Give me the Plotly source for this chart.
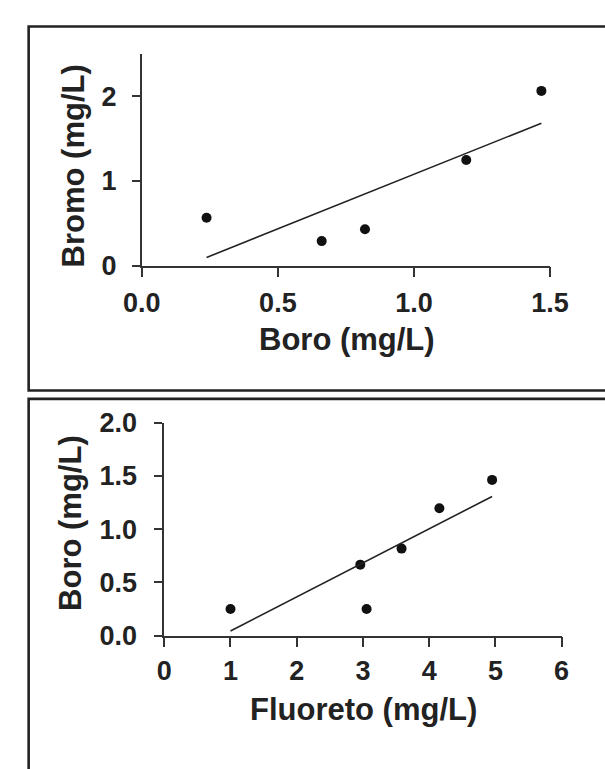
import numpy as np
import plotly.graph_objects as go

W, H = 605, 769

# ---- data (top panel): Boro vs Bromo ----
boro_top = [0.238, 0.661, 0.820, 1.192, 1.468]
bromo_top = [0.565, 0.289, 0.428, 1.247, 2.065]

# ---- data (bottom panel): Fluoreto vs Boro ----
fluoreto_bot = [1.00, 2.96, 3.055, 3.583, 4.154, 4.95]
boro_bot = [0.25, 0.666, 0.25, 0.817, 1.196, 1.463]

top_xticks = [0, 0.5, 1.0, 1.5]
top_yticks = [0, 1, 2]
bot_xticks = [0, 1, 2, 3, 4, 5, 6]
bot_yticks = [0, 0.5, 1.0, 1.5, 2.0]

INK = "#222222"
FONT = "Liberation Sans, Arial, sans-serif"


def px(x):
    return x / W


def py(y):
    return 1 - y / H


def fit(xs, ys):
    m, b = np.polyfit(xs, ys, 1)
    xx = np.array([min(xs), max(xs)])
    return xx, m * xx + b


fig = go.Figure()

fig.add_trace(go.Scatter(x=boro_top, y=bromo_top, mode="markers",
                         marker=dict(color="#111111", size=10),
                         xaxis="x", yaxis="y", showlegend=False))
fx, fy = fit(boro_top, bromo_top)
fig.add_trace(go.Scatter(x=fx, y=fy, mode="lines",
                         line=dict(color=INK, width=1.6),
                         xaxis="x", yaxis="y", showlegend=False))

fig.add_trace(go.Scatter(x=fluoreto_bot, y=boro_bot, mode="markers",
                         marker=dict(color="#111111", size=10),
                         xaxis="x2", yaxis="y2", showlegend=False))
fx2, fy2 = fit(fluoreto_bot, boro_bot)
fig.add_trace(go.Scatter(x=fx2, y=fy2, mode="lines",
                         line=dict(color=INK, width=1.6),
                         xaxis="x2", yaxis="y2", showlegend=False))

tickfont = dict(family=FONT, size=27, color=INK, weight="bold")
common = dict(showline=True, linewidth=1.6, linecolor="#333333",
              showgrid=False, zeroline=False, ticks="outside",
              tickwidth=1.6, tickcolor="#333333", tickfont=tickfont,
              fixedrange=True)

fig.update_layout(
    width=W, height=H,
    margin=dict(l=0, r=0, t=0, b=0),
    paper_bgcolor="white", plot_bgcolor="white",
    xaxis=dict(domain=[px(131), px(566.7)], range=[0, 1.5],
               tickvals=top_xticks, tickformat=".1f", ticklen=10,
               ticklabelstandoff=2, anchor="y", **common),
    yaxis=dict(domain=[py(260.7), py(40.7)], range=[0, 2.5],
               tickvals=top_yticks, ticklen=8, ticklabelstandoff=10,
               anchor="x", **common),
    xaxis2=dict(domain=[px(155), px(579)], range=[0, 6],
                tickvals=bot_xticks, ticklen=10, ticklabelstandoff=0,
                anchor="y2", **common),
    yaxis2=dict(domain=[py(645.7), py(424.3)], range=[0, 2],
                tickvals=bot_yticks, tickformat=".1f", ticklen=8,
                ticklabelstandoff=12, anchor="x2", **common),
)

title_font = dict(family=FONT, size=31, color=INK, weight="bold")
fig.add_annotation(text="Boro (mg/L)", xref="paper", yref="paper",
                   x=px(350), y=py(338), xanchor="center", yanchor="middle",
                   showarrow=False, font=title_font)
fig.add_annotation(text="Bromo (mg/L)", xref="paper", yref="paper",
                   x=px(58.5), y=py(156.7), xanchor="center", yanchor="middle",
                   textangle=-90, showarrow=False, font=title_font)
fig.add_annotation(text="Fluoreto (mg/L)", xref="paper", yref="paper",
                   x=px(368), y=py(723), xanchor="center", yanchor="middle",
                   showarrow=False, font=title_font)
fig.add_annotation(text="Boro (mg/L)", xref="paper", yref="paper",
                   x=px(55), y=py(529), xanchor="center", yanchor="middle",
                   textangle=-90, showarrow=False, font=title_font)

# panel frames
fig.add_shape(type="rect", xref="paper", yref="paper",
              x0=px(10.3), x1=1.1, y0=py(390.7), y1=py(12),
              line=dict(color=INK, width=2.6), fillcolor="rgba(0,0,0,0)")
fig.add_shape(type="rect", xref="paper", yref="paper",
              x0=px(10.3), x1=1.1, y0=-0.1, y1=py(399.5),
              line=dict(color=INK, width=2.6), fillcolor="rgba(0,0,0,0)")

fig.write_html("out.html")
